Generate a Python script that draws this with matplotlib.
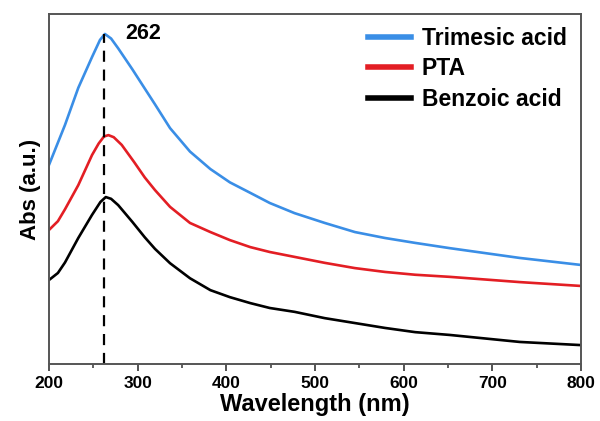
import numpy as np
import matplotlib
matplotlib.use("Agg")
import matplotlib.pyplot as plt
from matplotlib.ticker import MultipleLocator

plt.rcParams['font.family'] = ['Liberation Sans', 'DejaVu Sans']
plt.rcParams['font.weight'] = 'bold'

# arbitrary absorbance units
wl_tri = [200, 218, 233, 248.5, 257.5, 263, 270, 278, 294, 308, 319.5, 336.5, 359, 382, 404,
          427, 449, 477, 511, 545, 579, 613, 652, 731, 800]
abs_tri = [0.569, 0.683, 0.789, 0.877, 0.926, 0.943, 0.930, 0.902, 0.842, 0.787, 0.742, 0.674,
           0.607, 0.557, 0.519, 0.489, 0.460, 0.431, 0.403, 0.377, 0.360, 0.346, 0.331, 0.303,
           0.283]

wl_pta = [200, 210, 218, 233, 248.5, 256, 262, 267, 273, 282, 296, 308, 319.5, 336.5, 359, 382,
          404, 427, 449, 477, 511, 545, 579, 613, 652, 731, 800]
abs_pta = [0.383, 0.408, 0.442, 0.511, 0.597, 0.630, 0.650, 0.654, 0.648, 0.626, 0.577, 0.533,
           0.497, 0.449, 0.403, 0.377, 0.354, 0.334, 0.320, 0.306, 0.289, 0.274, 0.263, 0.255,
           0.249, 0.234, 0.223]

wl_benz = [200, 210, 218, 233, 248.5, 258, 264, 270, 278, 294, 308, 319.5, 336.5, 359, 382, 404,
           427, 449, 477, 511, 545, 579, 613, 652, 731, 800]
abs_benz = [0.240, 0.260, 0.290, 0.360, 0.426, 0.463, 0.477, 0.472, 0.454, 0.406, 0.362, 0.329,
            0.288, 0.245, 0.211, 0.191, 0.174, 0.160, 0.149, 0.131, 0.117, 0.103, 0.091, 0.083,
            0.063, 0.054]

peak_wl = 262
peak_abs = 0.943

fig = plt.figure(figsize=(6.0, 4.21), dpi=100)
ax = fig.add_axes([0.0817, 0.1354, 0.8866, 0.8313])

ax.plot(wl_tri, abs_tri, color='#3a8ee6', lw=1.9, label='Trimesic acid')
ax.plot(wl_pta, abs_pta, color='#e31e24', lw=1.9, label='PTA')
ax.plot(wl_benz, abs_benz, color='black', lw=1.9, label='Benzoic acid')

ax.plot([peak_wl, peak_wl], [0, peak_abs], color='black', lw=1.6, ls=(0, (5, 3.5)))
ax.text(286, 0.945, str(peak_wl), fontsize=15.5, fontweight='bold', ha='left', va='center')

ax.set_xlim(200, 800)
ax.set_ylim(0, 1.0)
ax.xaxis.set_major_locator(MultipleLocator(100))
ax.xaxis.set_minor_locator(MultipleLocator(50))
ax.set_yticks([])
ax.tick_params(axis='x', which='major', direction='out', length=5, width=1.3,
               labelsize=12.5, color='#444444', pad=4)
ax.tick_params(axis='x', which='minor', direction='out', length=3, width=1.2, color='#444444')
for s in ax.spines.values():
    s.set_color('#555555')
    s.set_linewidth(1.4)

ax.set_xlabel('Wavelength (nm)', fontsize=17, fontweight='bold', labelpad=1)
ax.set_ylabel('Abs (a.u.)', fontsize=16, fontweight='bold', labelpad=6)

leg = ax.legend(loc='upper right', frameon=False, fontsize=16.5, handlelength=1.9,
                handletextpad=0.45, labelspacing=0.33, borderaxespad=0.0,
                bbox_to_anchor=(0.99, 0.99))
for line in leg.get_lines():
    line.set_linewidth(4)

fig.savefig('out.png', dpi=100)
